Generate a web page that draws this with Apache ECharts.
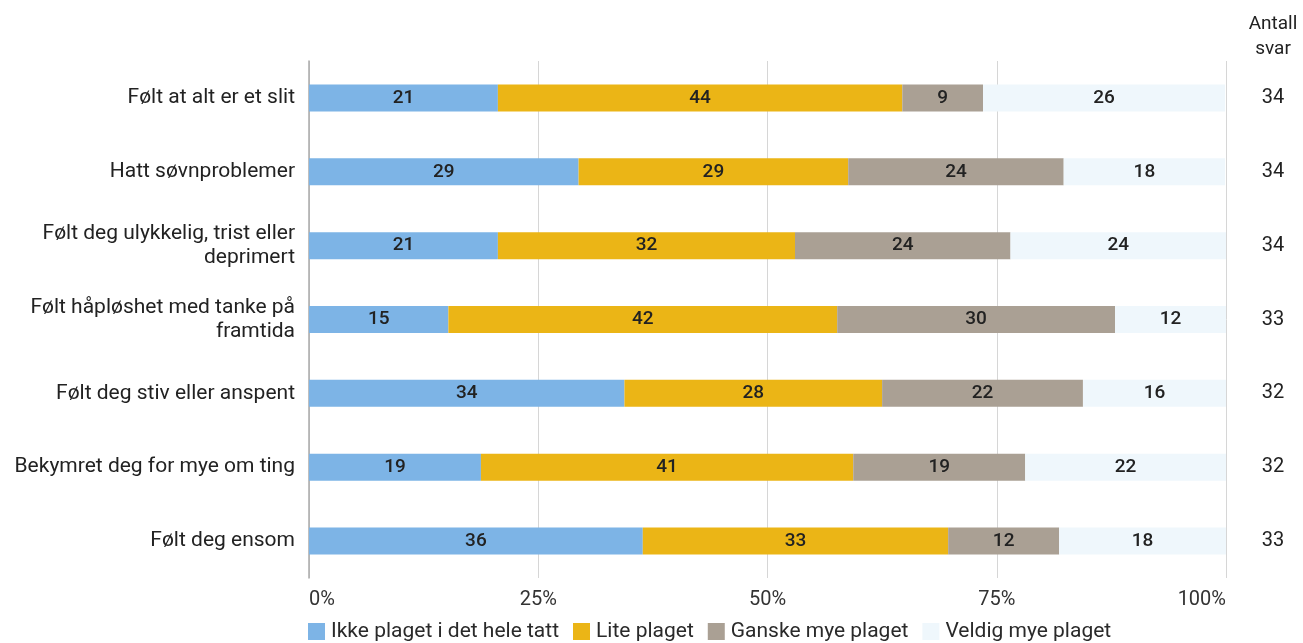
<!DOCTYPE html>
<html><head><meta charset="utf-8">
<script src="https://cdn.jsdelivr.net/npm/echarts@6/dist/echarts.min.js"></script>
<style>html,body{margin:0;padding:0;background:#fff}#c{width:1303px;height:643px}</style>
</head><body><div id="c"></div>
<script>
const categories = [
  "Følt at alt er et slit",
  "Hatt søvnproblemer",
  "Følt deg ulykkelig, trist eller\ndeprimert",
  "Følt håpløshet med tanke på\nframtida",
  "Følt deg stiv eller anspent",
  "Bekymret deg for mye om ting",
  "Følt deg ensom"
];
const seriesNames = ["Ikke plaget i det hele tatt", "Lite plaget", "Ganske mye plaget", "Veldig mye plaget"];
const ikke   = [20.6, 29.4, 20.6, 15.2, 34.4, 18.75, 36.4];
const lite   = [44.1, 29.4, 32.4, 42.4, 28.1, 40.6, 33.3];
const ganske = [8.8, 23.5, 23.5, 30.3, 21.9, 18.75, 12.1];
const veldig = [26.4, 17.6, 23.5, 12.1, 15.6, 21.9, 18.2];
const antall = ["34", "34", "34", "33", "32", "32", "33"];
const xTicks = ["0%", "25%", "50%", "75%", "100%"];

const colors = ["#7db4e6", "#ebb516", "#aaa094", "#eff7fc"];
const values = [ikke, lite, ganske, veldig];
const font = "Roboto, 'Noto Sans', sans-serif";

const chart = echarts.init(document.getElementById('c'));
chart.setOption({
  animation: false,
  textStyle: { fontFamily: font },
  color: colors,
  grid: { left: 309, right: 77, top: 61, bottom: 65, containLabel: false, outerBoundsMode: 'none' },
  legend: {
    bottom: 1, left: 308, padding: 0,
    itemWidth: 17, itemHeight: 17, itemGap: 14,
    icon: 'rect',
    textStyle: { fontSize: 21, color: '#2a2a2a', fontFamily: font, padding: [0, 0, 0, 1] },
    data: seriesNames
  },
  xAxis: {
    type: 'value', min: 0, max: 100, interval: 25,
    axisLine: { show: false },
    axisTick: { show: false },
    splitLine: { show: true, lineStyle: { color: '#d6d6d6', width: 1 } },
    axisLabel: {
      fontSize: 20, color: '#333', margin: 12,
      formatter: v => xTicks[Math.round(v / 25)],
      alignMinLabel: 'left', alignMaxLabel: 'right'
    }
  },
  yAxis: [{
    type: 'category', inverse: true, data: categories,
    axisLine: { show: true, lineStyle: { color: '#aaa', width: 1.5 } },
    axisTick: { show: false },
    axisLabel: { fontSize: 21, color: '#222', margin: 14, lineHeight: 24, align: 'right' }
  }, {
    type: 'category', inverse: true, data: antall, position: 'right',
    axisLine: { show: false }, axisTick: { show: false },
    axisLabel: { fontSize: 20, color: '#222', margin: 47, align: 'center' },
    name: 'Antall\nsvar', nameLocation: 'start', nameGap: -1,
    nameTextStyle: { fontSize: 19, color: '#222', lineHeight: 25, align: 'center', verticalAlign: 'bottom', padding: [0, 0, 0, 94] }
  }],
  series: seriesNames.map((n, i) => ({
    name: n, type: 'bar', stack: 'total', barWidth: 27,
    data: values[i],
    itemStyle: { color: colors[i] },
    label: {
      show: true, position: 'inside', fontSize: 19, color: '#222', fontWeight: 500,
      formatter: p => Math.round(p.value)
    }
  }))
});
</script></body></html>
